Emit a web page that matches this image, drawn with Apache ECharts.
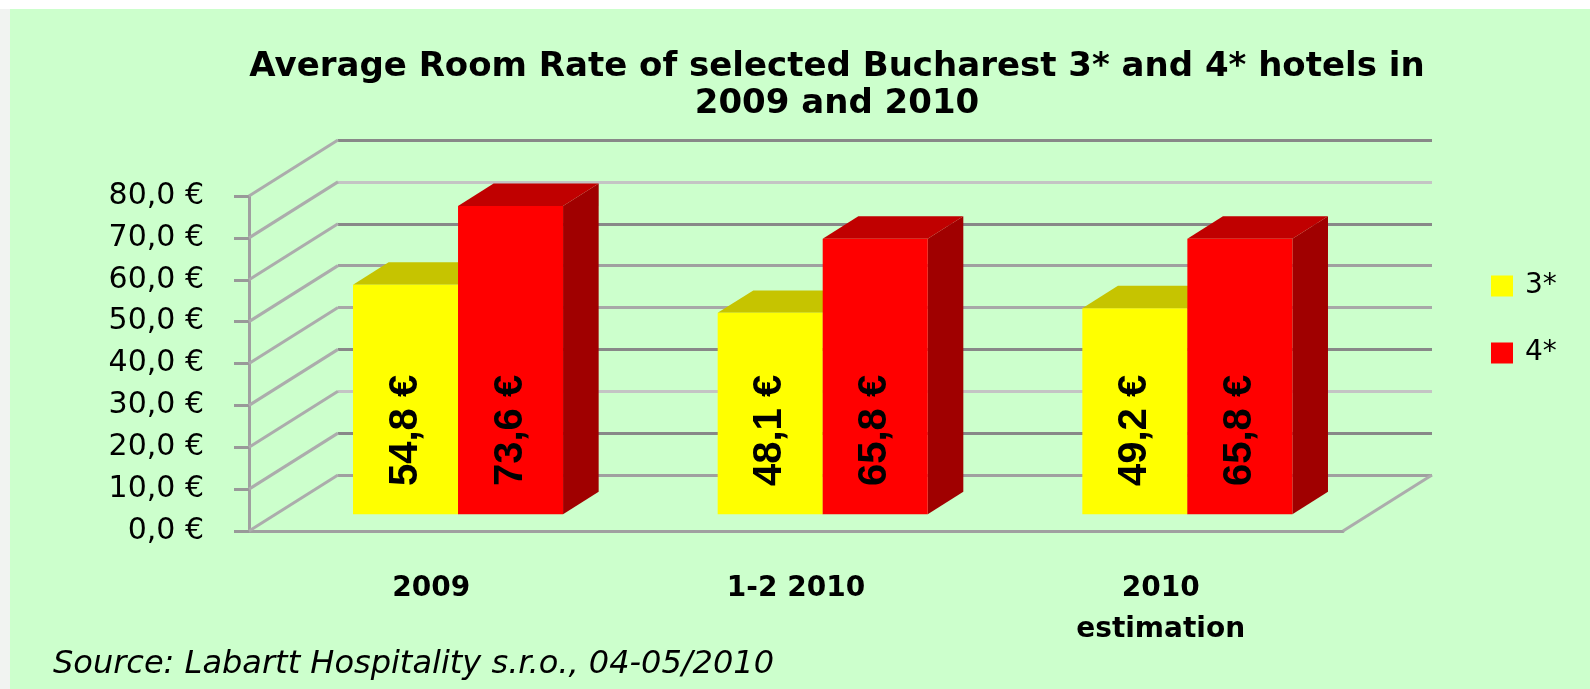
<!DOCTYPE html>
<html>
<head>
<meta charset="utf-8">
<title>Average Room Rate</title>
<script src="https://cdn.jsdelivr.net/npm/echarts@6/dist/echarts.min.js"></script>
<style>
  html, body { margin: 0; padding: 0; background: #fff; }
  #main { width: 1590px; height: 689px; }
</style>
</head>
<body>
<div id="main"></div>
<script>
const categories = ['2009', '1-2 2010', '2010\nestimation'];
const rate3 = [54.8, 48.1, 49.2];
const rate4 = [73.6, 65.8, 65.8];
const yTicks = [0, 10, 20, 30, 40, 50, 60, 70, 80];

// fake 3d box: offset of the back wall, bars sit in the middle of the depth
const DX = 89, DY = -56;
const BAR_FRONT = 0.3, BAR_DEPTH = 0.4, BAR_W = 0.288;

function euro(v) {
  return v.toFixed(1).replace('.', ',') + ' €';
}

function renderBar(side, colors) {
  return function (params, api) {
    const i = api.value(0);
    const v = api.value(1);
    const base = api.coord([i, 0]);
    const top = api.coord([i, v]);
    const bw = api.size([1, 0])[0] * BAR_W;
    const ox = DX * BAR_FRONT, oy = DY * BAR_FRONT;
    const dx = DX * BAR_DEPTH, dy = DY * BAR_DEPTH;
    const x0 = (side < 0 ? base[0] - bw : base[0]) + ox;
    const x1 = x0 + bw;
    const yt = top[1] + oy, yb = base[1] + oy;
    const ly = api.coord([i, 20])[1] + oy;
    return {
      type: 'group',
      children: [
        { type: 'polygon', shape: { points: [[x1, yt], [x1 + dx, yt + dy], [x1 + dx, yb + dy], [x1, yb]] }, style: { fill: colors[2] } },
        { type: 'polygon', shape: { points: [[x0, yt], [x1, yt], [x1 + dx, yt + dy], [x0 + dx, yt + dy]] }, style: { fill: colors[1] } },
        { type: 'rect', shape: { x: x0, y: yt, width: bw, height: yb - yt }, style: { fill: colors[0] } },
        {
          type: 'text', x: (x0 + x1) / 2, y: ly, rotation: Math.PI / 2,
          style: {
            x: 0, y: 0, text: euro(v), fill: '#000',
            font: 'bold 40px "Liberation Sans Narrow", "Liberation Sans", Arial',
            align: 'center', verticalAlign: 'middle'
          }
        }
      ]
    };
  };
}

// left wall + right floor edge
function renderWall(params, api) {
  const cs = params.coordSys;
  const y = api.coord([0, api.value(1)])[1];
  const style = { stroke: '#acacac', lineWidth: 3 };
  const children = [
    { type: 'line', shape: { x1: cs.x, y1: y, x2: cs.x + DX, y2: y + DY }, style: style }
  ];
  if (api.value(1) === 0) {
    children.push({ type: 'line', shape: { x1: cs.x + cs.width, y1: y, x2: cs.x + cs.width + DX, y2: y + DY }, style: style });
  }
  return { type: 'group', children: children };
}

const chart = echarts.init(document.getElementById('main'));

const option = {
  backgroundColor: '#ccffcc',
  animation: false,
  graphic: [
    { type: 'rect', shape: { x: 0, y: 0, width: 1590, height: 9 }, style: { fill: '#ffffff' }, z: -1 },
    { type: 'rect', shape: { x: 0, y: 9, width: 10, height: 680 }, style: { fill: '#f1f3f1' }, z: -1 },
    {
      type: 'text', x: 53, y: 665,
      style: {
        text: 'Source: Labartt Hospitality s.r.o., 04-05/2010',
        font: 'italic 32px "DejaVu Sans"', fill: '#000', verticalAlign: 'middle'
      }
    }
  ],
  title: {
    text: 'Average Room Rate of selected Bucharest 3* and 4* hotels in\n2009 and 2010',
    left: 832,
    top: 44,
    textAlign: 'center',
    textStyle: { fontFamily: 'DejaVu Sans', fontWeight: 'bold', fontSize: 34, lineHeight: 37, color: '#000' }
  },
  legend: {
    orient: 'vertical',
    left: 1486,
    top: 267,
    itemWidth: 22,
    itemHeight: 21,
    itemGap: 39,
    icon: 'rect',
    data: ['3*', '4*'],
    textStyle: { fontFamily: 'DejaVu Sans', fontSize: 28, color: '#000', padding: [0, 0, 0, 7] }
  },
  grid: [
    { left: 249, top: 196, width: 1094, height: 335 },
    { left: 249 + DX, top: 196 + DY, width: 1094, height: 335 }
  ],
  xAxis: [
    {
      type: 'category', gridIndex: 0, data: categories,
      axisLine: { lineStyle: { color: '#a0a0a0', width: 3 } },
      axisTick: { length: 10, lineStyle: { color: '#999', width: 3 } },
      axisLabel: {
        margin: 37, color: '#000', fontFamily: 'DejaVu Sans', fontWeight: 'bold',
        fontSize: 28, lineHeight: 41
      }
    },
    {
      type: 'category', gridIndex: 1, data: categories,
      axisLine: { show: false }, axisTick: { show: false }, axisLabel: { show: false }
    }
  ],
  yAxis: [
    {
      type: 'value', gridIndex: 0, min: 0, max: 80, interval: 10,
      axisLine: { show: true, lineStyle: { color: '#a0a0a0', width: 3 } },
      axisTick: { show: true, length: 15, lineStyle: { color: '#999', width: 3 } },
      splitLine: { show: false },
      axisLabel: {
        margin: 45, color: '#000', fontFamily: 'DejaVu Sans', fontSize: 30,
        formatter: euro
      }
    },
    {
      type: 'value', gridIndex: 1, min: 0, max: 80, interval: 10,
      axisLine: { show: false }, axisTick: { show: false }, axisLabel: { show: false },
      splitLine: {
        show: true,
        lineStyle: {
          width: 3,
          color: ['#a0a0a0', '#888888', '#c4c4c4', '#888888', '#a8a8a8', '#a0a0a0', '#888888', '#c4c4c4', '#888888']
        }
      }
    }
  ],
  series: [
    {
      type: 'custom', name: 'wall', silent: true, z: 1,
      xAxisIndex: 0, yAxisIndex: 0,
      renderItem: renderWall,
      data: yTicks.map(v => [0, v])
    },
    {
      type: 'custom', name: '3*', z: 2,
      xAxisIndex: 0, yAxisIndex: 0,
      itemStyle: { color: '#ffff00' },
      renderItem: renderBar(-1, ['#ffff00', '#c6c400', '#a8a600']),
      data: rate3.map((v, i) => [i, v])
    },
    {
      type: 'custom', name: '4*', z: 2,
      xAxisIndex: 0, yAxisIndex: 0,
      itemStyle: { color: '#ff0000' },
      renderItem: renderBar(1, ['#ff0000', '#c00000', '#a00000']),
      data: rate4.map((v, i) => [i, v])
    }
  ]
};

chart.setOption(option);
</script>
</body>
</html>
